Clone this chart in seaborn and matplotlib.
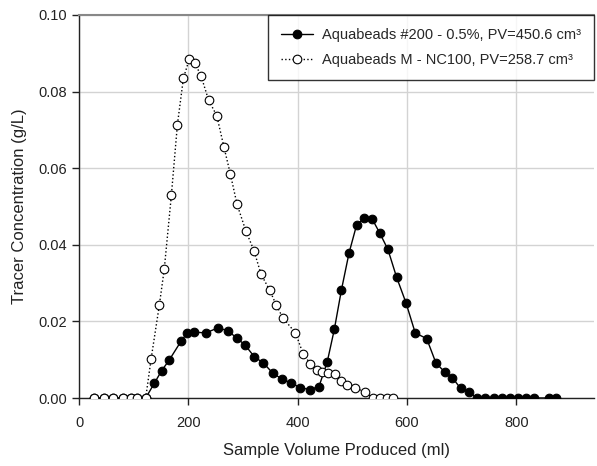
import matplotlib
matplotlib.use("Agg")
import matplotlib.pyplot as plt
import seaborn as sns
import pandas as pd
from matplotlib.ticker import FormatStrFormatter

# Data
filled_x = [27, 46, 63, 80, 95, 107, 122, 138, 151, 165, 187, 198, 210, 232, 254, 272,
            289, 304, 321, 337, 355, 371, 388, 405, 422, 439, 454, 467, 480, 494, 508,
            522, 536, 550, 565, 581, 598, 615, 636, 653, 669, 683, 698, 713, 728, 743,
            759, 774, 788, 803, 817, 832, 860, 873]
filled_y = [0, 0, 0, 0, 0, 0, 0, 0.0039, 0.0071, 0.0099, 0.0149, 0.0170, 0.0172, 0.0170,
            0.0183, 0.0176, 0.0156, 0.0138, 0.0107, 0.0092, 0.0064, 0.0050, 0.0039, 0.0027,
            0.0022, 0.0030, 0.0094, 0.0179, 0.0282, 0.0379, 0.0453, 0.0469, 0.0468, 0.0431,
            0.0388, 0.0315, 0.0249, 0.0170, 0.0155, 0.0091, 0.0068, 0.0053, 0.0025, 0.0016,
            0, 0, 0, 0, 0, 0, 0, 0, 0, 0]

open_x = [27, 46, 63, 80, 95, 107, 122, 132, 147, 156, 169, 180, 191, 202, 212, 223, 237,
          252, 265, 277, 289, 305, 320, 333, 349, 361, 373, 396, 410, 423, 435, 445, 456,
          468, 479, 491, 505, 523, 538, 550, 563, 575]
open_y = [0, 0, 0, 0, 0, 0, 0, 0.0103, 0.0243, 0.0337, 0.0530, 0.0714, 0.0835, 0.0886,
          0.0874, 0.0842, 0.0778, 0.0737, 0.0656, 0.0584, 0.0506, 0.0437, 0.0385, 0.0323,
          0.0281, 0.0242, 0.0209, 0.0170, 0.0115, 0.0090, 0.0074, 0.0067, 0.0065, 0.0063,
          0.0045, 0.0035, 0.0027, 0.0015, 0.0001, 0, 0, 0]

label_filled = "Aquabeads #200 - 0.5%, PV=450.6 cm³"
label_open = "Aquabeads M - NC100, PV=258.7 cm³"
xticks = [0, 200, 400, 600, 800]
yticks = [0.00, 0.02, 0.04, 0.06, 0.08, 0.10]

sns.set_style("white")
plt.rcParams['font.family'] = ['Liberation Sans', 'DejaVu Sans']

fig = plt.figure(figsize=(5.97, 4.66), dpi=100)
ax = fig.add_axes([79/597, 1-398/466, (594-79)/597, (398-15)/466])

df_f = pd.DataFrame({"x": filled_x, "y": filled_y})
df_o = pd.DataFrame({"x": open_x, "y": open_y})

sns.lineplot(data=df_f, x="x", y="y", ax=ax, color="black", linewidth=1.0,
             marker="o", markersize=6.2, markerfacecolor="black", markeredgecolor="black",
             markeredgewidth=0.8, label=label_filled, zorder=3)
sns.lineplot(data=df_o, x="x", y="y", ax=ax, color="black", linewidth=1.0,
             linestyle=":", marker="o", markersize=6.2, markerfacecolor="white",
             markeredgecolor="black", markeredgewidth=0.8, label=label_open, zorder=4)

ax.set_xlim(0, 942)
ax.set_ylim(0, 0.10)
ax.set_xticks(xticks)
ax.set_yticks(yticks)
ax.yaxis.set_major_formatter(FormatStrFormatter('%.2f'))
ax.grid(True, color="#d3d3d3", linewidth=1.0)
ax.set_axisbelow(True)

for s in ["left", "bottom"]:
    ax.spines[s].set_color("#222222")
    ax.spines[s].set_linewidth(1.0)
ax.spines["right"].set_visible(False)
ax.spines["top"].set_color("#888888")
ax.spines["top"].set_linewidth(1.5)

ax.tick_params(axis="both", direction="out", length=5, width=1, colors="#222222",
               labelsize=10.5, labelcolor="#222222", bottom=True, left=True)
ax.tick_params(axis="x", pad=8)
ax.set_xlabel("Sample Volume Produced (ml)", fontsize=12, labelpad=9, color="#222222")
ax.set_ylabel("Tracer Concentration (g/L)", fontsize=12, labelpad=8, color="#222222")

leg = ax.legend(loc="upper right", bbox_to_anchor=(1.0, 1.0), borderaxespad=0,
                fancybox=False, frameon=True, edgecolor="black", fontsize=10.5,
                handlelength=2.2, handletextpad=0.6, borderpad=0.9, labelspacing=0.75)
leg.get_frame().set_linewidth(1.0)

fig.savefig("out.png", dpi=100)
